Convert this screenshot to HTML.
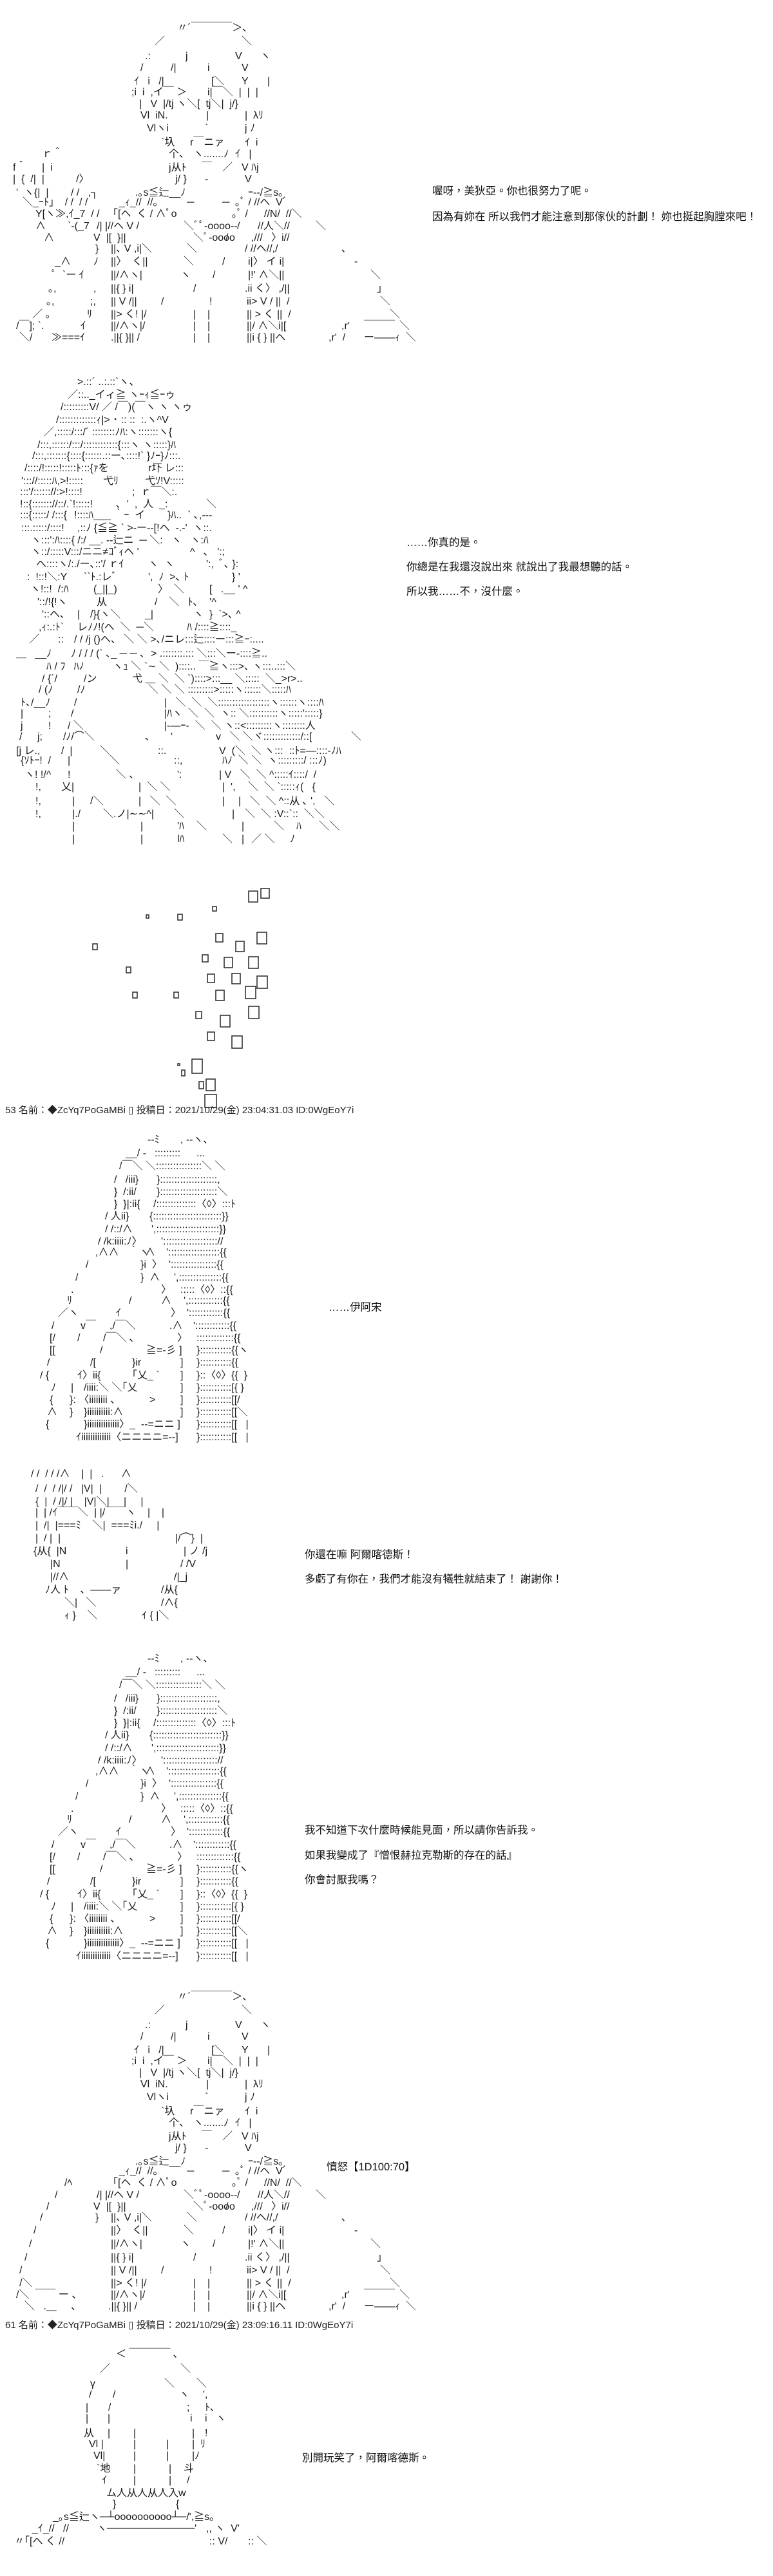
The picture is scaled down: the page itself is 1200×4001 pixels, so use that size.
<!DOCTYPE html>
<html><head><meta charset="utf-8">
<style>
html,body{margin:0;padding:0;background:#fff}
#p{position:relative;width:1200px;height:4001px;overflow:hidden;background:#fff;color:#1a1a1a}
#p i{position:absolute;font-style:normal;white-space:pre;font:16px/18px "Liberation Sans","Noto Sans CJK JP",sans-serif}
#p b{position:absolute;font-weight:normal;white-space:pre;font:16.5px/20px "Liberation Sans","Noto Sans CJK TC",sans-serif;color:#111}
#p u{position:absolute;text-decoration:none;white-space:pre;font:15px/18px "Liberation Sans","Noto Sans CJK JP",sans-serif;color:#222}
</style></head><body><div id="p">

<!-- ART 1 -->
<i style="left:275px;top:35px">〃´￣￣￣￣＞､</i>
<i style="left:240px;top:56px">／</i><i style="left:375px;top:56px">＼</i>
<i style="left:225px;top:79px">.:</i><i style="left:288px;top:79px">j</i><i style="left:365px;top:79px">V</i><i style="left:404px;top:79px">ヽ</i>
<i style="left:218px;top:97px">/</i><i style="left:265px;top:97px">/|</i><i style="left:322px;top:97px">i</i><i style="left:375px;top:97px">V</i>
<i style="left:208px;top:118px">ｲ   i   /|</i><i style="left:328px;top:118px">[＼</i><i style="left:375px;top:118px">Y</i><i style="left:415px;top:118px">|</i>
<i style="left:204px;top:135px">;i  i  ,イ￣ ＞</i><i style="left:322px;top:135px">i|￣＼  |  |  |</i>
<i style="left:216px;top:153px">|   V  |/tj ヽ＼[  tj＼|  j/}</i>
<i style="left:218px;top:171px">Vl  iN.</i><i style="left:320px;top:171px">|</i><i style="left:380px;top:171px">|  λﾘ</i>
<i style="left:228px;top:191px">Vlヽi</i><i style="left:318px;top:191px">`</i><i style="left:380px;top:191px">j ﾉ</i>
<i style="left:250px;top:213px">`圦</i><i style="left:295px;top:213px">r￣ニァ</i><i style="left:380px;top:213px">ｲ  i</i>
<i style="left:65px;top:231px">ｒ＾</i><i style="left:262px;top:231px">个、</i><i style="left:300px;top:231px">ヽ.......ﾉ</i><i style="left:365px;top:231px">ｲ   |</i>
<i style="left:20px;top:252px">f＾</i><i style="left:65px;top:252px">|  i</i><i style="left:262px;top:252px">j从ﾄ</i><i style="left:313px;top:252px">￣</i><i style="left:345px;top:252px">／</i><i style="left:375px;top:252px">V ﾊj</i>
<i style="left:20px;top:270px">|  {  /|  |</i><i style="left:118px;top:270px">/〉</i><i style="left:272px;top:270px">j/ }</i><i style="left:318px;top:270px">-</i><i style="left:380px;top:270px">V</i>
<i style="left:25px;top:291px">'  ヽ{|  |</i><i style="left:110px;top:291px">/ /   ,┐</i><i style="left:210px;top:291px">.｡s≦辷__ﾉ</i><i style="left:385px;top:291px">ｰ--/≧s｡</i>
<i style="left:35px;top:306px">＼_ｰﾄ」  / /  / /</i><i style="left:185px;top:306px">_ｨ_//  //｡</i><i style="left:290px;top:306px">─</i><i style="left:345px;top:306px">─</i><i style="left:365px;top:306px">｡ﾟ / //ヘ  Vﾞ</i>
<i style="left:55px;top:324px">Y[ヽ≫,ｲ_7  / /</i><i style="left:175px;top:324px">｢[ヘ  く / ∧ﾟo</i><i style="left:360px;top:324px">｡ﾟ /</i><i style="left:410px;top:324px">//N/  //＼</i>
<i style="left:55px;top:343px">∧</i><i style="left:105px;top:343px">`-(_7</i><i style="left:150px;top:343px">/| |//ヘ V /</i><i style="left:285px;top:343px">＼ﾞﾟ-oooo--</i><i style="left:368px;top:343px">/</i><i style="left:400px;top:343px">//人＼//</i><i style="left:490px;top:343px">＼</i>
<i style="left:68px;top:361px">∧</i><i style="left:145px;top:361px">V  |[  }||</i><i style="left:300px;top:361px">＼ﾟ-oooo</i><i style="left:350px;top:361px">/</i><i style="left:390px;top:361px">,///   〉i//</i>
<i style="left:148px;top:378px">}</i><i style="left:172px;top:378px">||､ V ,i|＼</i><i style="left:290px;top:378px">＼</i><i style="left:380px;top:378px">/ //ヘ//,/</i><i style="left:530px;top:378px">､</i>
<i style="left:85px;top:398px">_∧</i><i style="left:145px;top:398px">ﾉ</i><i style="left:172px;top:398px">||〉  く||</i><i style="left:285px;top:398px">＼</i><i style="left:345px;top:398px">/</i><i style="left:385px;top:398px">i|〉 イ i|</i><i style="left:550px;top:398px">-</i>
<i style="left:80px;top:419px">ﾟ  `ー ｲ</i><i style="left:172px;top:419px">||/∧ヽ|</i><i style="left:280px;top:419px">ヽ</i><i style="left:330px;top:419px">/</i><i style="left:385px;top:419px">|!' ∧＼||</i><i style="left:575px;top:419px">＼</i>
<i style="left:75px;top:440px">｡,</i><i style="left:145px;top:440px">,</i><i style="left:172px;top:440px">||{ } i|</i><i style="left:300px;top:440px">/</i><i style="left:380px;top:440px">.ii く〉 ,/||</i><i style="left:585px;top:440px">」</i>
<i style="left:72px;top:460px">｡,</i><i style="left:140px;top:460px">;,</i><i style="left:172px;top:460px">|| V /||</i><i style="left:250px;top:460px">/</i><i style="left:325px;top:460px">!</i><i style="left:383px;top:460px">ii> V / ||  /</i><i style="left:590px;top:460px">＼</i>
<i style="left:50px;top:480px">／ ｡</i><i style="left:135px;top:480px">ﾘ</i><i style="left:172px;top:480px">||> く! |/</i><i style="left:300px;top:480px">|    |</i><i style="left:383px;top:480px">|| > く ||  /</i><i style="left:605px;top:480px">＼</i>
<i style="left:25px;top:498px">/￣]; `.</i><i style="left:125px;top:498px">ｲ</i><i style="left:172px;top:498px">||/∧ヽ|/</i><i style="left:300px;top:498px">|    |</i><i style="left:383px;top:498px">||/ ∧＼i|[</i><i style="left:530px;top:498px">,r'</i><i style="left:565px;top:498px">￣￣￣</i><i style="left:620px;top:498px">＼</i>
<i style="left:30px;top:516px">＼/</i><i style="left:80px;top:516px">≫===ｲ</i><i style="left:172px;top:516px">.||{ }|| /</i><i style="left:300px;top:516px">|    |</i><i style="left:383px;top:516px">||i { } ||ヘ</i><i style="left:510px;top:516px">,r'  /</i><i style="left:565px;top:516px">ー――ｨ</i><i style="left:630px;top:516px">＼</i>

<b style="left:671px;top:287px">喔呀，美狄亞。你也很努力了呢。</b>
<b style="left:671px;top:327px">因為有妳在 所以我們才能注意到那傢伙的計劃！ 妳也挺起胸膛來吧！</b>

<!-- ART 2 -->
<i style="left:120px;top:585px">&gt;.::´ ..:.::`ヽ、</i>
<i style="left:105px;top:605px">／::.._イィ≧ ヽｰｨ≦ｰゥ</i>
<i style="left:94px;top:624px">/:::::::::V/ ／ /￣)(￣ヽ ヽ ヽゥ</i>
<i style="left:87px;top:644px">/:::::::::::::ｨ|&gt; ･ :: ::  :.ヽ^V</i>
<i style="left:68px;top:663px">／,:::::/:::/´ ::::::::ﾉﾊ:ヽ:::::::ヽ{</i>
<i style="left:58px;top:683px">/:::,::::::/:::/::::::::::::{:::ヽ ヽ:::::}ﾊ</i>
<i style="left:50px;top:700px">/:::,:::::::{::::{::::::.::ー､::::!` }ﾉｰ}ﾉ:::.</i>
<i style="left:38px;top:719px">/::::/!:::::!:::::ﾄ:::{ｧを</i><i style="left:230px;top:719px">r圷 レ:::</i>
<i style="left:33px;top:739px">'::://:::::ﾊ,&gt;!:::::</i><i style="left:160px;top:739px">弋ﾘ</i><i style="left:225px;top:739px">弋ｿ!V:::::</i>
<i style="left:31px;top:756px">:::'/:::::://:&gt;!::::!</i><i style="left:205px;top:756px">;  ｒ￣＼:.</i>
<i style="left:31px;top:775px">!::{::::::://::/.`!:::::!</i><i style="left:180px;top:775px">､  '  ,  人  _:</i><i style="left:320px;top:775px">＼</i>
<i style="left:31px;top:792px">:::{:::::/ /:::{</i><i style="left:115px;top:792px">!::::ﾊ___ ｀ｰ  イ</i><i style="left:260px;top:792px">}ﾊ..  ` ､,---</i>
<i style="left:33px;top:812px">:::.:::::/::::!</i><i style="left:120px;top:812px">,::ﾉ {≦≧ ` &gt;-ー--[!ヘ  -.-'  ヽ::.</i>
<i style="left:48px;top:831px">ヽ:::':ﾊ::::{ /:/ __. --辷ニ  ─ ＼:   ヽ   ヽ:ﾊ</i>
<i style="left:48px;top:849px">ヽ::/:::::V:::/ニニ≠ｺﾞｨヘ '</i><i style="left:295px;top:849px">^   ､   ':;</i>
<i style="left:56px;top:868px">ヘ::::ヽ/:./ー､::'/ ｒｲ</i><i style="left:230px;top:868px">ヽ  ヽ</i><i style="left:320px;top:868px">':,  ﾞ､ }:</i>
<i style="left:42px;top:888px">:  !::!＼:Y</i><i style="left:130px;top:888px">``ﾄ.:レﾞ</i><i style="left:230px;top:888px">',  ﾉ  &gt;､ ﾄ</i><i style="left:360px;top:888px">} '</i>
<i style="left:47px;top:907px">ヽ!::!  /:ﾊ</i><i style="left:145px;top:907px">(_||_)</i><i style="left:245px;top:907px">〉  ＼</i><i style="left:325px;top:907px">[   .__ ' ^</i>
<i style="left:58px;top:927px">'::/!{!ヽ</i><i style="left:150px;top:927px">从</i><i style="left:240px;top:927px">/    ＼   ﾄ､    '^</i>
<i style="left:65px;top:946px">'::ヘ､</i><i style="left:120px;top:946px">|</i><i style="left:140px;top:946px">/}{ヽ＼</i><i style="left:225px;top:946px">_|</i><i style="left:300px;top:946px">ヽ  }  `&gt;､ ^</i>
<i style="left:60px;top:966px">,ｨ:.:ﾄ`</i><i style="left:120px;top:966px">レﾉﾉ!(ヘ  ＼  ─＼</i><i style="left:290px;top:966px">ﾊ /::::≧::::_</i>
<i style="left:45px;top:985px">／</i><i style="left:90px;top:985px">::</i><i style="left:115px;top:985px">/ / /j ()ヘ、 ＼ ＼ &gt;､/ニレ:::辷::::ー:::≧ｰ:....</i>
<i style="left:25px;top:1007px">＿   __ﾉ</i><i style="left:110px;top:1007px">ﾉ / / / (` ､_ ─ ─ ､  &gt; .:::::::.::: ＼:::＼ー-::::≧..</i>
<i style="left:72px;top:1027px">ﾊ / ﾌ   ﾊﾉ</i><i style="left:175px;top:1027px">ヽｭ ＼ `∼ ＼  )::::.. ￣≧ヽ:::&gt;､ ヽ:::..:::＼</i>
<i style="left:65px;top:1046px">/ {´/</i><i style="left:130px;top:1046px">/ン</i><i style="left:205px;top:1046px">弋 ＿ ＼  ＼ `)::::&gt;:::__ ＼:::::  ＼_&gt;r&gt;..</i>
<i style="left:60px;top:1063px">/ (ﾉ</i><i style="left:120px;top:1063px">/ﾉ</i><i style="left:230px;top:1063px">＼ ＼ ＼ :::::::::&gt;:::::ヽ::::::＼:::::ﾊ</i>
<i style="left:32px;top:1083px">ﾄ､/__ﾉ</i><i style="left:115px;top:1083px">/</i><i style="left:255px;top:1083px">|   ＼  ＼  ＼::::::::::::::::::ヽ::::::ヽ::::ﾊ</i>
<i style="left:32px;top:1100px">|</i><i style="left:75px;top:1100px">;</i><i style="left:110px;top:1100px">/</i><i style="left:255px;top:1100px">|ﾊヽ  ＼  ＼  ヽ:: ＼::::::::::ヽ:::::':::::}</i>
<i style="left:32px;top:1119px">j</i><i style="left:75px;top:1119px">!</i><i style="left:105px;top:1119px">/ ＼</i><i style="left:255px;top:1119px">|-―ｰ-  ＼  ＼ ヽ::&lt;:::::::::ヽ::::::::人</i>
<i style="left:30px;top:1136px">/</i><i style="left:58px;top:1136px">j;</i><i style="left:98px;top:1136px">/ﾉ/⌒＼</i><i style="left:225px;top:1136px">､</i><i style="left:265px;top:1136px">'</i><i style="left:335px;top:1136px">v   ＼ ＼ヾ:::::::::::::/::[</i><i style="left:545px;top:1136px">＼</i>
<i style="left:25px;top:1158px">[j レ.,</i><i style="left:95px;top:1158px">/  |</i><i style="left:155px;top:1158px">＼</i><i style="left:245px;top:1158px">::.</i><i style="left:340px;top:1158px">V  (＼  ＼ ヽ:::  ::ﾄ=―::::-ﾉﾊ</i>
<i style="left:32px;top:1173px">{ｿﾄｰ!  /</i><i style="left:105px;top:1173px">|</i><i style="left:170px;top:1173px">＼</i><i style="left:270px;top:1173px">::,</i><i style="left:345px;top:1173px">ﾊﾉ  ＼ ＼  ヽ:::::::::/ :::ﾉ)</i>
<i style="left:38px;top:1195px">ヽ! !/^</i><i style="left:105px;top:1195px">!</i><i style="left:180px;top:1195px">＼ ､</i><i style="left:275px;top:1195px">':</i><i style="left:340px;top:1195px">| V   ＼  ＼ ^:::::ｲ::::/  /</i>
<i style="left:55px;top:1214px">!,</i><i style="left:95px;top:1214px">乂|</i><i style="left:215px;top:1214px">|  ＼ ＼</i><i style="left:345px;top:1214px">|  ',</i><i style="left:385px;top:1214px">＼  ＼ `:::::ｨ(   {</i>
<i style="left:55px;top:1236px">!,</i><i style="left:112px;top:1236px">|</i><i style="left:140px;top:1236px">/＼</i><i style="left:215px;top:1236px">|   ＼  ＼</i><i style="left:345px;top:1236px">|</i><i style="left:370px;top:1236px">|   ＼  ＼ ^::从 ､ ',   ＼</i>
<i style="left:55px;top:1256px">!,</i><i style="left:112px;top:1256px">|./</i><i style="left:160px;top:1256px">＼.ノ|∼∼^|</i><i style="left:270px;top:1256px">＼</i><i style="left:360px;top:1256px">|</i><i style="left:380px;top:1256px">＼  ＼ :V::`::  ＼＼</i>
<i style="left:112px;top:1275px">|</i><i style="left:218px;top:1275px">|</i><i style="left:275px;top:1275px">'ﾊ</i><i style="left:305px;top:1275px">＼</i><i style="left:375px;top:1275px">|</i><i style="left:425px;top:1275px">＼</i><i style="left:460px;top:1275px">ﾊ</i><i style="left:495px;top:1275px">＼＼</i>
<i style="left:112px;top:1295px">|</i><i style="left:218px;top:1295px">|</i><i style="left:275px;top:1295px">lﾊ</i><i style="left:345px;top:1295px">＼</i><i style="left:375px;top:1295px">|</i><i style="left:390px;top:1295px">／ ＼</i><i style="left:450px;top:1295px">ﾉ</i>

<b style="left:631px;top:833px">……你真的是。</b>
<b style="left:631px;top:871px">你總是在我還沒說出來 就說出了我最想聽的話。</b>
<b style="left:631px;top:909px">所以我……不，沒什麼。</b>

<!-- ART 3 squares -->
<svg style="position:absolute;left:0;top:0" width="1200" height="1760">
<g fill="none" stroke="#333" stroke-width="1.6">
<rect x="386" y="1384" width="14" height="17"/><rect x="405" y="1380" width="13" height="15"/>
<rect x="330" y="1408" width="6" height="7"/><rect x="227" y="1421" width="4" height="5"/>
<rect x="276" y="1420" width="7" height="9"/><rect x="144" y="1466" width="7" height="9"/>
<rect x="335" y="1450" width="11" height="13"/><rect x="366" y="1462" width="13" height="16"/>
<rect x="399" y="1448" width="15" height="18"/><rect x="314" y="1483" width="9" height="11"/>
<rect x="348" y="1487" width="13" height="16"/><rect x="386" y="1486" width="15" height="18"/>
<rect x="196" y="1502" width="7" height="9"/><rect x="322" y="1513" width="11" height="13"/>
<rect x="360" y="1512" width="13" height="16"/><rect x="399" y="1516" width="16" height="19"/>
<rect x="206" y="1541" width="7" height="9"/><rect x="270" y="1541" width="7" height="9"/>
<rect x="335" y="1538" width="13" height="16"/><rect x="381" y="1532" width="16" height="19"/>
<rect x="304" y="1571" width="9" height="11"/><rect x="342" y="1577" width="15" height="18"/>
<rect x="386" y="1563" width="16" height="19"/><rect x="322" y="1603" width="11" height="13"/>
<rect x="360" y="1609" width="16" height="19"/><rect x="298" y="1645" width="16" height="22"/>
<rect x="282" y="1662" width="5" height="9"/><rect x="309" y="1680" width="7" height="11"/>
<rect x="320" y="1676" width="14" height="18"/><rect x="318" y="1700" width="18" height="20"/>
<rect x="276" y="1652" width="3" height="3"/>
</g></svg>

<u style="left:8px;top:1716px">53 名前：◆ZcYq7PoGaMBi ▯ 投稿日：2021/10/29(金) 23:04:31.03 ID:0WgEoY7i</u>

<!-- ART 4 -->
<i style="left:229px;top:1762px">--ﾐ</i><i style="left:280px;top:1762px">, --ヽ､</i>
<i style="left:195px;top:1783px">__/ -</i><i style="left:240px;top:1783px">:::::::::</i><i style="left:305px;top:1783px">...</i>
<i style="left:185px;top:1803px">/￣＼ ＼::::::::::::::::＼ ＼</i>
<i style="left:177px;top:1824px">/   /iii}</i><i style="left:243px;top:1824px">}::::::::::::::::::::,</i>
<i style="left:177px;top:1843px">}  /:ii/</i><i style="left:243px;top:1843px">}::::::::::::::::::::＼</i>
<i style="left:177px;top:1862px">}  }|:ii{</i><i style="left:238px;top:1862px">/::::::::::::::〈◊〉:::ﾄ</i>
<i style="left:163px;top:1881px">/ 人ii}</i><i style="left:232px;top:1881px">{::::::::::::::::::::::::}}</i>
<i style="left:163px;top:1901px">/ /::/∧</i><i style="left:235px;top:1901px">',::::::::::::::::::::::}}</i>
<i style="left:152px;top:1920px">/ /k:iiii:ﾉ〉</i><i style="left:250px;top:1920px">'::::::::::::::::::://</i>
<i style="left:148px;top:1937px">,∧∧</i><i style="left:200px;top:1937px">｀ヽ</i><i style="left:225px;top:1937px">∧</i><i style="left:258px;top:1937px">'::::::::::::::::::{{</i>
<i style="left:133px;top:1956px">/</i><i style="left:218px;top:1956px">}i  〉</i><i style="left:262px;top:1956px">'::::::::::::::::{{</i>
<i style="left:117px;top:1976px">/</i><i style="left:218px;top:1976px">}  ∧</i><i style="left:270px;top:1976px">',:::::::::::::::{{</i>
<i style="left:110px;top:1995px">.</i><i style="left:250px;top:1995px">〉</i><i style="left:280px;top:1995px">:::::〈◊〉::{{</i>
<i style="left:104px;top:2012px">ﾘ</i><i style="left:200px;top:2012px">/</i><i style="left:250px;top:2012px">∧</i><i style="left:285px;top:2012px">',::::::::::::{{</i>
<i style="left:90px;top:2031px">／ヽ</i><i style="left:180px;top:2031px">ｲ</i><i style="left:265px;top:2031px">〉</i><i style="left:290px;top:2031px">'::::::::::::{{</i>
<i style="left:80px;top:2051px">/</i><i style="left:125px;top:2051px">v￣</i><i style="left:170px;top:2051px">,/￣＼</i><i style="left:263px;top:2051px">.∧</i><i style="left:300px;top:2051px">'::::::::::::{{</i>
<i style="left:77px;top:2070px">[/</i><i style="left:120px;top:2070px">/</i><i style="left:160px;top:2070px">/￣＼ ､</i><i style="left:275px;top:2070px">〉</i><i style="left:305px;top:2070px">:::::::::::::{{</i>
<i style="left:77px;top:2089px">[[</i><i style="left:155px;top:2089px">/</i><i style="left:227px;top:2089px">≧=-彡 ]</i><i style="left:305px;top:2089px">}:::::::::::{{ヽ</i>
<i style="left:73px;top:2108px">/</i><i style="left:140px;top:2108px">/[</i><i style="left:205px;top:2108px">}ir</i><i style="left:280px;top:2108px">]</i><i style="left:305px;top:2108px">}:::::::::::{{</i>
<i style="left:62px;top:2128px">/ {</i><i style="left:120px;top:2128px">ｲ〉ii{</i><i style="left:205px;top:2128px">｢乂_ `</i><i style="left:280px;top:2128px">]</i><i style="left:305px;top:2128px">}::〈◊〉{{  }</i>
<i style="left:79px;top:2147px">ﾉ</i><i style="left:110px;top:2147px">|</i><i style="left:130px;top:2147px">/iiii:＼ ＼｢乂</i><i style="left:280px;top:2147px">]</i><i style="left:305px;top:2147px">}:::::::::::[{ }</i>
<i style="left:77px;top:2166px">{</i><i style="left:108px;top:2166px">}: 〈iiiiiiii 、</i><i style="left:232px;top:2166px">&gt;</i><i style="left:280px;top:2166px">]</i><i style="left:305px;top:2166px">}:::::::::::[[/</i>
<i style="left:73px;top:2185px">∧</i><i style="left:108px;top:2185px">}</i><i style="left:130px;top:2185px">}iiiiiiiiii:∧</i><i style="left:280px;top:2185px">]</i><i style="left:305px;top:2185px">}:::::::::::[[＼</i>
<i style="left:71px;top:2204px">{</i><i style="left:130px;top:2204px">}iiiiiiiiiiiiii〉_  --=ニニ ]</i><i style="left:305px;top:2204px">}:::::::::::[[   |</i>
<i style="left:118px;top:2224px">ｲiiiiiiiiiiiii〈ニニニニ=--]</i><i style="left:305px;top:2224px">}:::::::::::[[   |</i>

<b style="left:510px;top:2021px">……伊阿宋</b>

<!-- ART 5 -->
<i style="left:48px;top:2281px">/ /  / / /∧    |  |   .      ∧</i>
<i style="left:55px;top:2304px">/  /  / /|/ /   |V|  |        /＼</i>
<i style="left:55px;top:2324px">{  |  / /|/ |    |V|＼|     |     |</i>
<i style="left:55px;top:2341px">|  | /ｲ￣￣＼  | |/￣￣ヽ    |    |</i>
<i style="left:55px;top:2361px">|  /|  |===ﾐ    ＼|  ===ﾐi./     |</i>
<i style="left:55px;top:2381px">|  / |  |</i><i style="left:272px;top:2381px">|/⌒}  |</i>
<i style="left:52px;top:2401px">{从{  |N</i><i style="left:195px;top:2401px">i</i><i style="left:285px;top:2401px">| ノ /j</i>
<i style="left:78px;top:2421px">|N</i><i style="left:195px;top:2421px">|</i><i style="left:280px;top:2421px">/ /V</i>
<i style="left:78px;top:2441px">|//∧</i><i style="left:270px;top:2441px">/|_j</i>
<i style="left:70px;top:2461px">ﾉ人 ﾄ    、――ァ</i><i style="left:250px;top:2461px">/从{</i>
<i style="left:100px;top:2481px">＼|   ＼</i><i style="left:250px;top:2481px">/∧{</i>
<i style="left:100px;top:2501px">ｨ }    ＼</i><i style="left:220px;top:2501px">ｲ { |＼</i>

<b style="left:473px;top:2405px">你還在嘛 阿爾喀德斯！</b>
<b style="left:473px;top:2443px">多虧了有你在，我們才能沒有犧牲就結束了！ 謝謝你！</b>

<!-- ART 6 -->
<i style="left:229px;top:2568px">--ﾐ</i><i style="left:280px;top:2568px">, --ヽ､</i>
<i style="left:195px;top:2589px">__/ -</i><i style="left:240px;top:2589px">:::::::::</i><i style="left:305px;top:2589px">...</i>
<i style="left:185px;top:2609px">/￣＼ ＼::::::::::::::::＼ ＼</i>
<i style="left:177px;top:2630px">/   /iii}</i><i style="left:243px;top:2630px">}::::::::::::::::::::,</i>
<i style="left:177px;top:2649px">}  /:ii/</i><i style="left:243px;top:2649px">}::::::::::::::::::::＼</i>
<i style="left:177px;top:2668px">}  }|:ii{</i><i style="left:238px;top:2668px">/::::::::::::::〈◊〉:::ﾄ</i>
<i style="left:163px;top:2687px">/ 人ii}</i><i style="left:232px;top:2687px">{::::::::::::::::::::::::}}</i>
<i style="left:163px;top:2707px">/ /::/∧</i><i style="left:235px;top:2707px">',::::::::::::::::::::::}}</i>
<i style="left:152px;top:2726px">/ /k:iiii:ﾉ〉</i><i style="left:250px;top:2726px">'::::::::::::::::::://</i>
<i style="left:148px;top:2743px">,∧∧</i><i style="left:200px;top:2743px">｀ヽ</i><i style="left:225px;top:2743px">∧</i><i style="left:258px;top:2743px">'::::::::::::::::::{{</i>
<i style="left:133px;top:2762px">/</i><i style="left:218px;top:2762px">}i  〉</i><i style="left:262px;top:2762px">'::::::::::::::::{{</i>
<i style="left:117px;top:2782px">/</i><i style="left:218px;top:2782px">}  ∧</i><i style="left:270px;top:2782px">',:::::::::::::::{{</i>
<i style="left:110px;top:2801px">.</i><i style="left:250px;top:2801px">〉</i><i style="left:280px;top:2801px">:::::〈◊〉::{{</i>
<i style="left:104px;top:2818px">ﾘ</i><i style="left:200px;top:2818px">/</i><i style="left:250px;top:2818px">∧</i><i style="left:285px;top:2818px">',::::::::::::{{</i>
<i style="left:90px;top:2837px">／ヽ</i><i style="left:180px;top:2837px">ｲ</i><i style="left:265px;top:2837px">〉</i><i style="left:290px;top:2837px">'::::::::::::{{</i>
<i style="left:80px;top:2857px">/</i><i style="left:125px;top:2857px">v￣</i><i style="left:170px;top:2857px">,/￣＼</i><i style="left:263px;top:2857px">.∧</i><i style="left:300px;top:2857px">'::::::::::::{{</i>
<i style="left:77px;top:2876px">[/</i><i style="left:120px;top:2876px">/</i><i style="left:160px;top:2876px">/￣＼ ､</i><i style="left:275px;top:2876px">〉</i><i style="left:305px;top:2876px">:::::::::::::{{</i>
<i style="left:77px;top:2895px">[[</i><i style="left:155px;top:2895px">/</i><i style="left:227px;top:2895px">≧=-彡 ]</i><i style="left:305px;top:2895px">}:::::::::::{{ヽ</i>
<i style="left:73px;top:2914px">/</i><i style="left:140px;top:2914px">/[</i><i style="left:205px;top:2914px">}ir</i><i style="left:280px;top:2914px">]</i><i style="left:305px;top:2914px">}:::::::::::{{</i>
<i style="left:62px;top:2934px">/ {</i><i style="left:120px;top:2934px">ｲ〉ii{</i><i style="left:205px;top:2934px">｢乂_ `</i><i style="left:280px;top:2934px">]</i><i style="left:305px;top:2934px">}::〈◊〉{{  }</i>
<i style="left:79px;top:2953px">ﾉ</i><i style="left:110px;top:2953px">|</i><i style="left:130px;top:2953px">/iiii:＼ ＼｢乂</i><i style="left:280px;top:2953px">]</i><i style="left:305px;top:2953px">}:::::::::::[{ }</i>
<i style="left:77px;top:2972px">{</i><i style="left:108px;top:2972px">}: 〈iiiiiiii 、</i><i style="left:232px;top:2972px">&gt;</i><i style="left:280px;top:2972px">]</i><i style="left:305px;top:2972px">}:::::::::::[[/</i>
<i style="left:73px;top:2991px">∧</i><i style="left:108px;top:2991px">}</i><i style="left:130px;top:2991px">}iiiiiiiiii:∧</i><i style="left:280px;top:2991px">]</i><i style="left:305px;top:2991px">}:::::::::::[[＼</i>
<i style="left:71px;top:3010px">{</i><i style="left:130px;top:3010px">}iiiiiiiiiiiiii〉_  --=ニニ ]</i><i style="left:305px;top:3010px">}:::::::::::[[   |</i>
<i style="left:118px;top:3030px">ｲiiiiiiiiiiiii〈ニニニニ=--]</i><i style="left:305px;top:3030px">}:::::::::::[[   |</i>

<b style="left:473px;top:2833px">我不知道下次什麼時候能見面，所以請你告訴我。</b>
<b style="left:473px;top:2872px">如果我變成了『憎恨赫拉克勒斯的存在的話』</b>
<b style="left:473px;top:2910px">你會討厭我嗎？</b>

<!-- ART 7 -->
<i style="left:275px;top:3093px">〃´￣￣￣￣＞､</i>
<i style="left:240px;top:3114px">／</i><i style="left:375px;top:3114px">＼</i>
<i style="left:225px;top:3137px">.:</i><i style="left:288px;top:3137px">j</i><i style="left:365px;top:3137px">V</i><i style="left:404px;top:3137px">ヽ</i>
<i style="left:218px;top:3155px">/</i><i style="left:265px;top:3155px">/|</i><i style="left:322px;top:3155px">i</i><i style="left:375px;top:3155px">V</i>
<i style="left:208px;top:3176px">ｲ   i   /|</i><i style="left:328px;top:3176px">[＼</i><i style="left:375px;top:3176px">Y</i><i style="left:415px;top:3176px">|</i>
<i style="left:204px;top:3193px">;i  i  ,イ￣ ＞</i><i style="left:322px;top:3193px">i|￣＼  |  |  |</i>
<i style="left:216px;top:3211px">|   V  |/tj ヽ＼[  tj＼|  j/}</i>
<i style="left:218px;top:3229px">Vl  iN.</i><i style="left:320px;top:3229px">|</i><i style="left:380px;top:3229px">|  λﾘ</i>
<i style="left:228px;top:3249px">Vlヽi</i><i style="left:318px;top:3249px">`</i><i style="left:380px;top:3249px">j ﾉ</i>
<i style="left:250px;top:3271px">`圦</i><i style="left:295px;top:3271px">r￣ニァ</i><i style="left:380px;top:3271px">ｲ  i</i>
<i style="left:262px;top:3289px">个、</i><i style="left:300px;top:3289px">ヽ.......ﾉ</i><i style="left:365px;top:3289px">ｲ   |</i>
<i style="left:262px;top:3310px">j从ﾄ</i><i style="left:313px;top:3310px">￣</i><i style="left:345px;top:3310px">／</i><i style="left:375px;top:3310px">V ﾊj</i>
<i style="left:272px;top:3328px">j/ }</i><i style="left:318px;top:3328px">-</i><i style="left:380px;top:3328px">V</i>
<i style="left:210px;top:3349px">.｡s≦辷__ﾉ</i><i style="left:385px;top:3349px">ｰ--/≧s｡</i>
<i style="left:185px;top:3364px">_ｨ_//  //｡</i><i style="left:290px;top:3364px">─</i><i style="left:345px;top:3364px">─</i><i style="left:365px;top:3364px">｡ﾟ / //ヘ  Vﾞ</i>
<i style="left:100px;top:3382px">/ﾍ</i><i style="left:175px;top:3382px">｢[ヘ  く / ∧ﾟo</i><i style="left:360px;top:3382px">｡ﾟ /</i><i style="left:410px;top:3382px">//N/  //＼</i>
<i style="left:85px;top:3401px">/</i><i style="left:150px;top:3401px">/| |//ヘ V /</i><i style="left:285px;top:3401px">＼ﾞﾟ-oooo--</i><i style="left:368px;top:3401px">/</i><i style="left:400px;top:3401px">//人＼//</i><i style="left:490px;top:3401px">＼</i>
<i style="left:72px;top:3419px">/</i><i style="left:145px;top:3419px">V  |[  }||</i><i style="left:300px;top:3419px">＼ﾟ-oooo</i><i style="left:350px;top:3419px">/</i><i style="left:390px;top:3419px">,///   〉i//</i>
<i style="left:62px;top:3436px">/</i><i style="left:148px;top:3436px">}</i><i style="left:172px;top:3436px">||､ V ,i|＼</i><i style="left:290px;top:3436px">＼</i><i style="left:380px;top:3436px">/ //ヘ//,/</i><i style="left:530px;top:3436px">､</i>
<i style="left:52px;top:3456px">/</i><i style="left:172px;top:3456px">||〉  く||</i><i style="left:285px;top:3456px">＼</i><i style="left:345px;top:3456px">/</i><i style="left:385px;top:3456px">i|〉 イ i|</i><i style="left:550px;top:3456px">-</i>
<i style="left:45px;top:3477px">/</i><i style="left:172px;top:3477px">||/∧ヽ|</i><i style="left:280px;top:3477px">ヽ</i><i style="left:330px;top:3477px">/</i><i style="left:385px;top:3477px">|!' ∧＼||</i><i style="left:575px;top:3477px">＼</i>
<i style="left:38px;top:3498px">/</i><i style="left:172px;top:3498px">||{ } i|</i><i style="left:300px;top:3498px">/</i><i style="left:380px;top:3498px">.ii く〉 ,/||</i><i style="left:585px;top:3498px">」</i>
<i style="left:30px;top:3518px">/</i><i style="left:172px;top:3518px">|| V /||</i><i style="left:250px;top:3518px">/</i><i style="left:325px;top:3518px">!</i><i style="left:383px;top:3518px">ii&gt; V / ||  /</i><i style="left:590px;top:3518px">＼</i>
<i style="left:30px;top:3538px">/＼</i><i style="left:172px;top:3538px">||&gt; く! |/</i><i style="left:300px;top:3538px">|    |</i><i style="left:383px;top:3538px">|| &gt; く ||  /</i><i style="left:605px;top:3538px">＼</i>
<i style="left:25px;top:3556px">/＼  ￣￣ ー 、</i><i style="left:172px;top:3556px">||/∧ヽ|/</i><i style="left:300px;top:3556px">|    |</i><i style="left:383px;top:3556px">||/ ∧＼i|[</i><i style="left:530px;top:3556px">,r'</i><i style="left:565px;top:3556px">￣￣￣</i><i style="left:620px;top:3556px">＼</i>
<i style="left:38px;top:3574px">＼   .＿     、</i><i style="left:168px;top:3574px">.||{ }|| /</i><i style="left:300px;top:3574px">|    |</i><i style="left:383px;top:3574px">||i { } ||ヘ</i><i style="left:510px;top:3574px">,r'  /</i><i style="left:565px;top:3574px">ー――ｨ</i><i style="left:630px;top:3574px">＼</i>

<b style="left:507px;top:3356px">憤怒【1D100:70】</b>

<u style="left:8px;top:3603px">61 名前：◆ZcYq7PoGaMBi ▯ 投稿日：2021/10/29(金) 23:09:16.11 ID:0WgEoY7i</u>

<!-- ART 8 -->
<i style="left:180px;top:3648px">＜ ￣￣￣￣ ､</i>
<i style="left:155px;top:3671px">／</i><i style="left:280px;top:3671px">＼</i>
<i style="left:140px;top:3694px">γ</i><i style="left:255px;top:3694px">＼</i><i style="left:305px;top:3694px">＼</i>
<i style="left:138px;top:3711px">/</i><i style="left:175px;top:3711px">/</i><i style="left:278px;top:3711px">ヽ</i><i style="left:315px;top:3711px">',</i>
<i style="left:133px;top:3731px">|</i><i style="left:168px;top:3731px">/</i><i style="left:290px;top:3731px">;</i><i style="left:318px;top:3731px">ﾄ､</i>
<i style="left:133px;top:3748px">|</i><i style="left:167px;top:3748px">|</i><i style="left:295px;top:3748px">i</i><i style="left:318px;top:3748px">i</i><i style="left:335px;top:3748px">ヽ</i>
<i style="left:130px;top:3771px">从</i><i style="left:167px;top:3771px">|</i><i style="left:207px;top:3771px">|</i><i style="left:298px;top:3771px">|</i><i style="left:318px;top:3771px">!</i>
<i style="left:138px;top:3788px">Vl |</i><i style="left:207px;top:3788px">|</i><i style="left:258px;top:3788px">|</i><i style="left:298px;top:3788px">|  ﾘ</i>
<i style="left:145px;top:3806px">Vl|</i><i style="left:207px;top:3806px">|</i><i style="left:258px;top:3806px">|</i><i style="left:298px;top:3806px">|ﾉ</i>
<i style="left:150px;top:3826px">`地</i><i style="left:207px;top:3826px">|</i><i style="left:262px;top:3826px">|</i><i style="left:285px;top:3826px">斗</i>
<i style="left:158px;top:3844px">ｲ</i><i style="left:207px;top:3844px">|</i><i style="left:262px;top:3844px">|</i><i style="left:290px;top:3844px">/</i>
<i style="left:165px;top:3864px">ム人从人从人入w</i>
<i style="left:175px;top:3881px">}</i><i style="left:273px;top:3881px">{</i>
<i style="left:82px;top:3901px">_｡s≦辷ヽ─┴oooooooooo┴─/',≧s｡</i>
<i style="left:50px;top:3919px">_ｲ_//   //</i><i style="left:150px;top:3919px">ヽ────────────'</i><i style="left:320px;top:3919px">,, ヽ  V'</i>
<i style="left:22px;top:3939px">〃｢[ヘ く //</i><i style="left:325px;top:3939px">:: V/</i><i style="left:385px;top:3939px">:: ＼</i>

<b style="left:469px;top:3808px">別開玩笑了，阿爾喀德斯。</b>

</div></body></html>
